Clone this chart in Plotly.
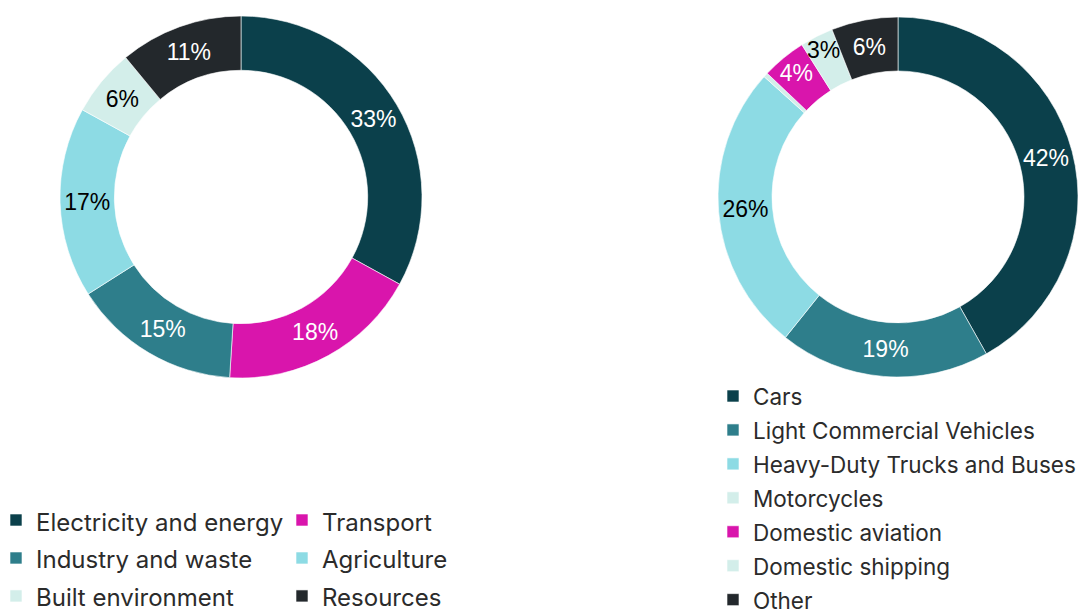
import plotly.graph_objects as go

# Left donut: emissions by sector
sector_labels = ["Electricity and energy", "Transport", "Industry and waste",
                 "Agriculture", "Built environment", "Resources"]
sector_values = [33, 18, 15, 17, 6, 11]
sector_colors = ["#0b404b", "#d915ac", "#2e7e8b", "#8ddbe4", "#d3eeea", "#23282c"]
sector_textcolors = ["#ffffff", "#ffffff", "#ffffff", "#000000", "#000000", "#ffffff"]

# Right donut: transport emissions by mode
mode_labels = ["Cars", "Light Commercial Vehicles", "Heavy-Duty Trucks and Buses",
               "Motorcycles", "Domestic aviation", "Domestic shipping", "Other"]
mode_values = [42, 19, 26, 0.4, 4, 3, 6]
mode_colors = ["#0b404b", "#2e7e8b", "#8ddbe4", "#d3eeea", "#d915ac", "#d3eeea", "#23282c"]
mode_textcolors = ["#ffffff", "#ffffff", "#000000", "#000000", "#ffffff", "#000000", "#ffffff"]
mode_textpos = ["inside", "inside", "inside", "none", "inside", "inside", "inside"]

# page offset caused by the default body margin
OFF = 8
W, H = 1200, 607
GW = 1078


def px(page_x):
    return (page_x - OFF) / GW


def py(page_y):
    return (H - (page_y - OFF)) / H


def sized(names, size):
    return [f"<span style='font-size:{size}px'>{n}</span>" for n in names]


fig = go.Figure()
fig.add_trace(go.Pie(
    labels=sized(sector_labels, 24), values=sector_values, hole=0.7, sort=False,
    direction="clockwise", rotation=0,
    marker=dict(colors=sector_colors, line=dict(color="#ffffff", width=0.6)),
    texttemplate="%{percent:.0%}", textposition="inside",
    insidetextorientation="horizontal",
    insidetextfont=dict(family="Liberation Sans", size=23, color=sector_textcolors),
    domain=dict(x=[px(60), px(422)], y=[py(378), py(16)]),
    legend="legend",
))
fig.add_trace(go.Pie(
    labels=sized(mode_labels, 22.5), values=mode_values, hole=0.7, sort=False,
    direction="clockwise", rotation=0,
    marker=dict(colors=mode_colors, line=dict(color="#ffffff", width=0.6)),
    texttemplate="%{percent:.0%}", textposition=mode_textpos,
    insidetextorientation="horizontal",
    insidetextfont=dict(family="Liberation Sans", size=23, color=mode_textcolors),
    domain=dict(x=[px(718), px(1078)], y=[py(377), py(17)]),
    legend="legend2",
))

h1 = 1.3 * 26.9 + 3
h2 = 1.3 * 23.8 + 3
fig.update_layout(
    width=W, height=H,
    margin=dict(l=0, r=W - GW, t=0, b=0, autoexpand=False),
    paper_bgcolor="#ffffff", plot_bgcolor="#ffffff",
    uniformtext=dict(minsize=23, mode="show"),
    legend=dict(orientation="h", x=px(-4), xanchor="left", y=py(520 - h1 / 2 - 5), yanchor="top",
                entrywidth=241,
                font=dict(family="Inter", size=26.9, color="#2b2b2b"),
                bgcolor="rgba(0,0,0,0)"),
    legend2=dict(orientation="v", x=px(713), xanchor="left", y=py(396 - h2 / 2 - 5), yanchor="top",
                 font=dict(family="Inter", size=23.8, color="#2b2b2b"),
                 bgcolor="rgba(0,0,0,0)"),
)

fig.write_html("out.html")
